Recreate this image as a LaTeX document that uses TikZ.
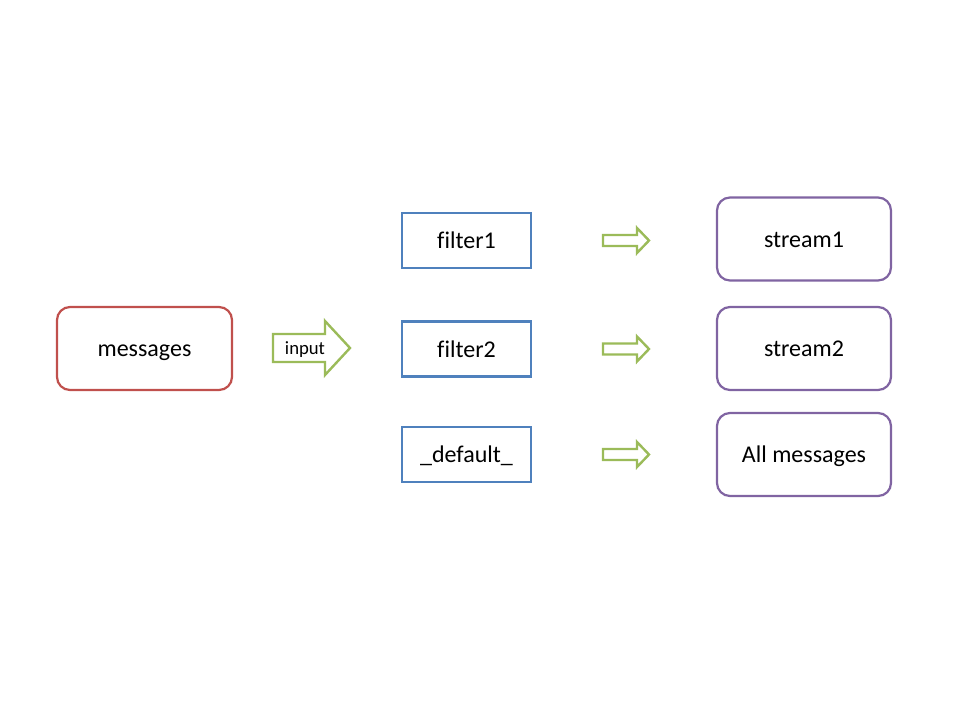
\documentclass[tikz,border=0pt]{standalone}
\usepackage{fontspec}
\setmainfont{Carlito}[Ligatures=NoCommon]
\definecolor{cred}{HTML}{C0504D}
\definecolor{cblue}{HTML}{4F81BD}
\definecolor{cpurple}{HTML}{8064A2}
\definecolor{cgreen}{HTML}{9BBB59}
\begin{document}
\begin{tikzpicture}[x=1pt,y=-1pt,
  boxbase/.style={line width=2.2pt, inner sep=0pt, text height=16pt, text depth=0pt, font=\fontsize{24}{28}\selectfont},
  filterbox/.style={boxbase, draw=cblue, minimum width=129pt, minimum height=55pt},
  streambox/.style={boxbase, draw=cpurple, rounded corners=13pt, minimum width=174pt, minimum height=83pt},
  msgbox/.style={boxbase, draw=cred, rounded corners=13pt, minimum width=175pt, minimum height=83pt},
  arrowline/.style={draw=cgreen, line width=2.4pt, line join=miter, fill=white},
  bigarrow/.pic={\path[arrowline] (0,-14) -- (52,-14) -- (52,-27) -- (77,0) -- (52,27) -- (52,14) -- (0,14) -- cycle;},
  smallarrow/.pic={\path[arrowline] (0,-5.5) -- (34,-5.5) -- (34,-12.5) -- (46,0) -- (34,12.5) -- (34,5.5) -- (0,5.5) -- cycle;},
  lbl/.style={inner sep=0pt, text height=12.5pt, text depth=0pt, font=\fontsize{18.7}{22}\selectfont}
]
\useasboundingbox (0,0) rectangle (960,720);

\node[msgbox] (messages) at (144.5,348.5) {messages};

\node[filterbox] (filter1) at (466.5,240.5) {filter1};
\node[filterbox] (filter2) at (466.5,349) {filter2};
\node[filterbox] (default) at (466.5,454.5) {\_default\_};

\node[streambox] (stream1) at (804,239) {stream1};
\node[streambox] (stream2) at (804,348.5) {stream2};
\node[streambox] (allmsg) at (804,454.5) {All messages};

\coordinate (inarrow) at (273,348);
\pic at (inarrow) {bigarrow};
\node[lbl] (inputlbl) at (305,348) {input};

\coordinate (a1) at (603,240.5);
\coordinate (a2) at (603,349);
\coordinate (a3) at (603,454.5);
\pic at (a1) {smallarrow};
\pic at (a2) {smallarrow};
\pic at (a3) {smallarrow};
\end{tikzpicture}
\end{document}
